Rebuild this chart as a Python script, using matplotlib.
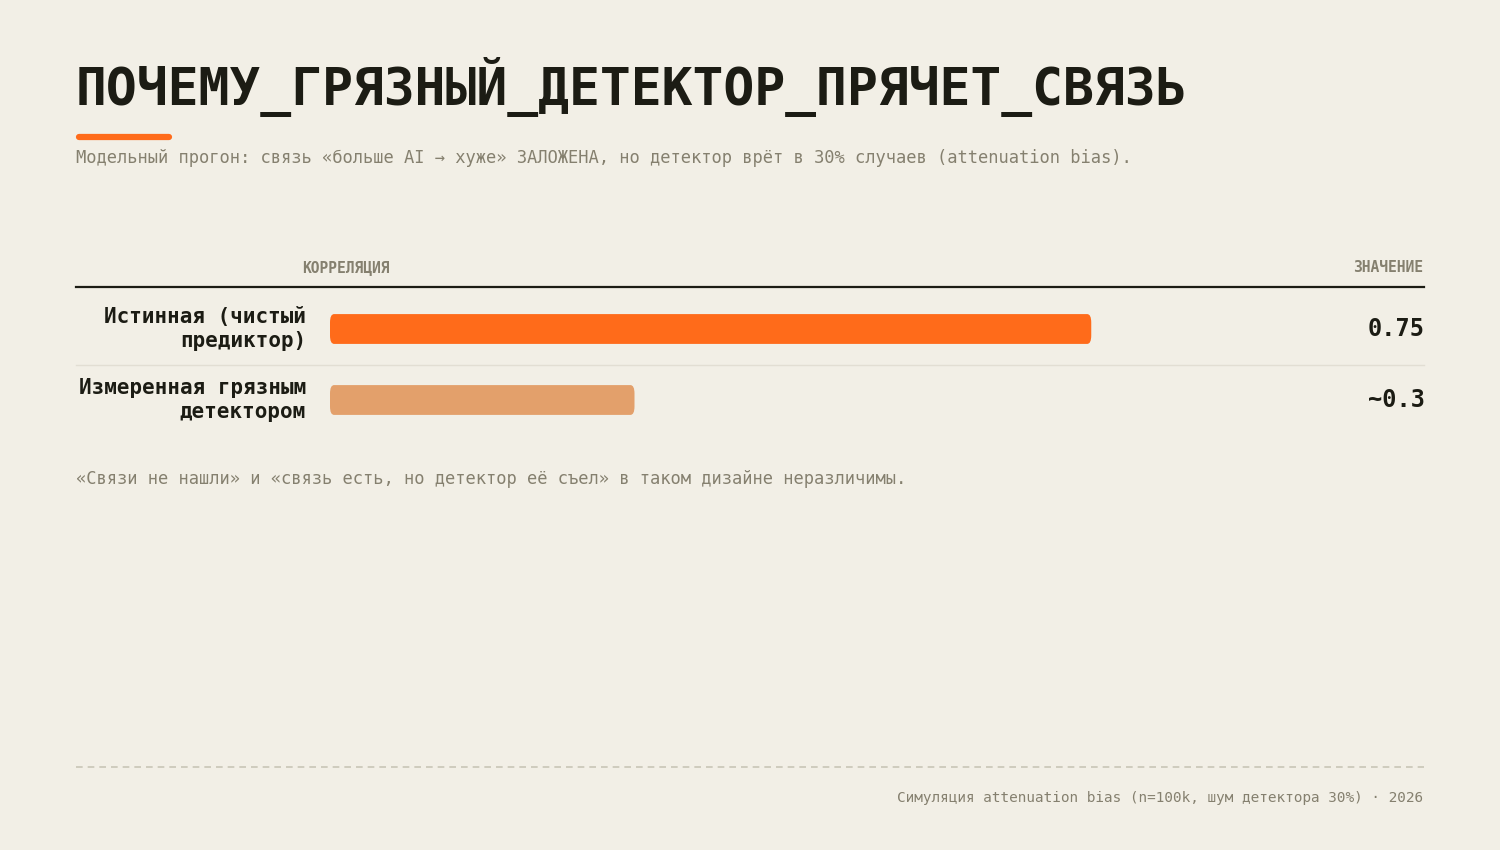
import matplotlib
matplotlib.use("Agg")
import matplotlib.pyplot as plt
from matplotlib.patches import FancyBboxPatch
from matplotlib.lines import Line2D

categories = ["Истинная (чистый\nпредиктор)", "Измеренная грязным\nдетектором"]
values = [0.75, 0.3]
value_labels = ["0.75", "~0.3"]
colors = ["#FF6B1A", "#E3A06B"]

W, H = 1500, 850
BG = "#F2EFE6"; INK = "#1C1C14"; GREY = "#85806F"
FONT = ["DejaVu Sans Mono"]
plt.rcParams["font.family"] = FONT

fig = plt.figure(figsize=(15, 8.5), dpi=100, facecolor=BG)

def fx(x): return x / W
def fy(y): return 1 - y / H

fig.text(fx(76), fy(87), "ПОЧЕМУ_ГРЯЗНЫЙ_ДЕТЕКТОР_ПРЯЧЕТ_СВЯЗЬ", fontsize=37, fontweight="bold",
         color=INK, va="center", ha="left")
fig.add_artist(Line2D([fx(79), fx(169)], [fy(136.5), fy(136.5)], color="#FF6B1A", lw=4.5,
                      solid_capstyle="round"))
fig.text(fx(76), fy(158), "Модельный прогон: связь «больше AI → хуже» ЗАЛОЖЕНА, но детектор врёт в 30% случаев (attenuation bias).",
         fontsize=12.3, color=GREY, va="center", ha="left")

fig.text(fx(302), fy(268), "КОРРЕЛЯЦИЯ", fontsize=10.5, fontweight="bold", color=GREY, va="center", ha="left")
fig.text(fx(1423), fy(268), "ЗНАЧЕНИЕ", fontsize=10.5, fontweight="bold", color=GREY, va="center", ha="right")
fig.add_artist(Line2D([fx(76), fx(1424)], [fy(287), fy(287)], color=INK, lw=1.6))
fig.add_artist(Line2D([fx(76), fx(1424)], [fy(364.5), fy(364.5)], color="#E2DED3", lw=1))

ax = fig.add_axes([fx(330), fy(435.5), fx(1345) - fx(330), (435.5 - 293.5) / H])
ax.set_facecolor("none")
ax.set_xlim(0, 1)
ax.set_ylim(1.5, -0.5)
ax.axis("off")
for i, (v, c) in enumerate(zip(values, colors)):
    ax.add_patch(FancyBboxPatch((0, i - 0.21), v, 0.42, boxstyle="round,pad=0,rounding_size=0.004",
                                mutation_aspect=30, facecolor=c, edgecolor="none"))
    fig.text(fx(306), fy(329 + 71 * i), categories[i], fontsize=15, fontweight="bold", color=INK,
             ha="right", va="center", linespacing=1.25)
    fig.text(fx(1425), fy(329 + 71 * i), value_labels[i], fontsize=17, fontweight="bold", color=INK,
             ha="right", va="center")

fig.text(fx(76), fy(479), "«Связи не нашли» и «связь есть, но детектор её съел» в таком дизайне неразличимы.",
         fontsize=12.3, color=GREY, va="center", ha="left")

fig.add_artist(Line2D([fx(76), fx(1424)], [fy(767), fy(767)], color="#C9C5B6", lw=1.2, ls=(0, (4, 3))))
fig.text(fx(1423), fy(798), "Симуляция attenuation bias (n=100k, шум детектора 30%) · 2026",
         fontsize=10.4, color=GREY, va="center", ha="right")

fig.savefig("out.png", dpi=100, facecolor=BG)
